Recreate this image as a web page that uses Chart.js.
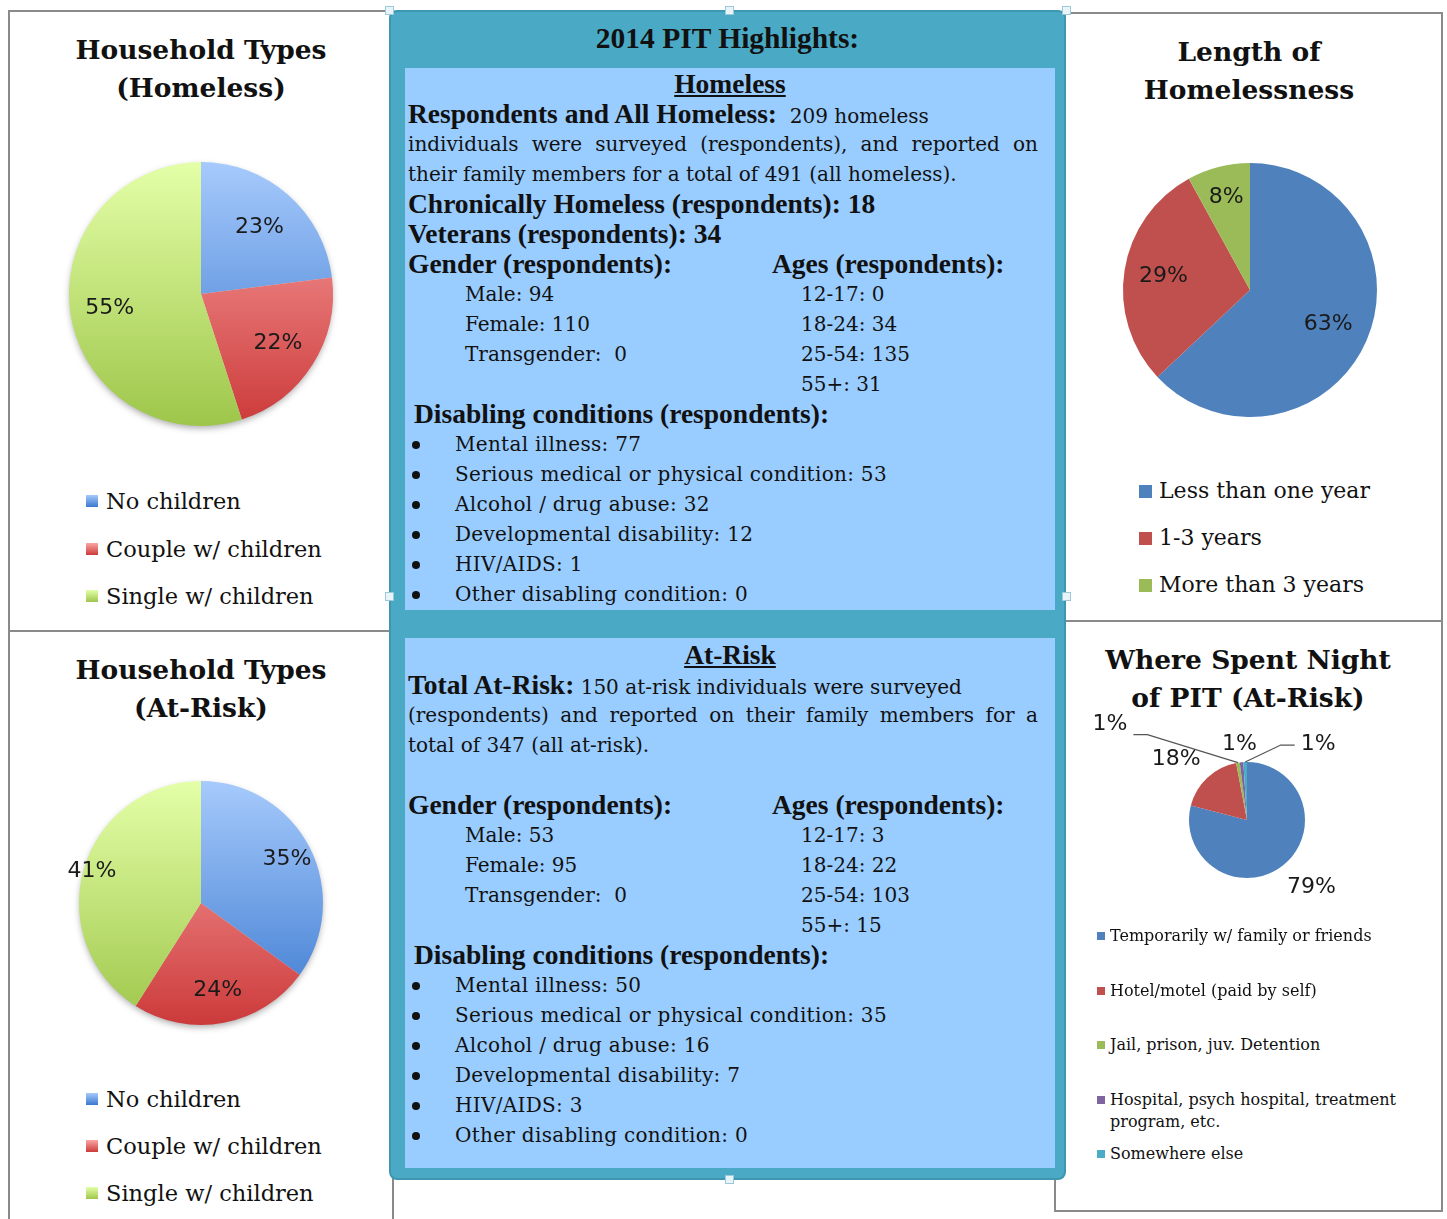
<!DOCTYPE html>
<html>
<head>
<meta charset="utf-8">
<title>2014 PIT Highlights</title>
<script src="https://cdn.jsdelivr.net/npm/chart.js@4.4.1/dist/chart.umd.min.js"></script>
<style>
    body { margin: 0; width: 1447px; height: 1219px; overflow: hidden; background: #fff; position: relative; color: #111; }
    .panel { position: absolute; border: 2px solid #8a8a8a; box-sizing: border-box; background: #fff; }
    .ttl { position: absolute; text-align: center; font: bold 26.5px/38px "DejaVu Serif", serif; color: #111; }
    canvas { position: absolute; }
    .lg { position: absolute; font-family: "DejaVu Serif", serif; color: #111; }
    .lg .item { position: absolute; left: 0; white-space: nowrap; }
    .lg .sw { position: absolute; }

    #pit { position: absolute; left: 389px; top: 10px; width: 677px; height: 1170px; background: #4aaac5;
           border: 2px solid #3d97b1; border-radius: 8px; box-sizing: border-box; }
    #pitTitulo { position: absolute; left: 389px; top: 19px; width: 677px; text-align: center;
                 font: bold 29.5px/38px "Liberation Serif", serif; color: #111; }
    .box { position: absolute; left: 405px; width: 650px; background: #99ccff; box-sizing: border-box;
           padding-left: 3px; padding-right: 17px; font: 20px/30px "DejaVu Serif", serif; color: #111; }
    .box > div { height: 30px; white-space: nowrap; }
    .box b { font: bold 27.5px/30px "Liberation Serif", serif; }
    .box .c { text-align: center; margin-right: -14px; }
    .box .j { text-align: justify; text-align-last: justify; white-space: normal; }
    .box .two { display: grid; grid-template-columns: 364px 1fr; }
    .box .in span:first-child { padding-left: 57px; }
    .box .in span:last-child { padding-left: 29px; }
    .box .dc { padding-left: 6px; }
    .box .li { position: relative; padding-left: 47px; letter-spacing: 0.3px; }
    .box .li::before { content: ''; position: absolute; left: 4px; top: 12px; width: 8px; height: 8px;
                       border-radius: 50%; background: #111; }
    .alca { position: absolute; width: 7px; height: 7px; background: #e8f4fa; border: 1px solid #9cc9d8; }
</style>
</head>
<body>

<!-- molduras dos graficos -->
<div class="panel" style="left:8px; top:10px; width:384px; height:622px;"></div>
<div class="panel" style="left:8px; top:630px; width:386px; height:620px;"></div>
<div class="panel" style="left:1064px; top:12px; width:379px; height:610px;"></div>
<div class="panel" style="left:1054px; top:620px; width:389px; height:592px;"></div>

<!-- caixa central -->
<div id="pit"></div>
<div class="alca" style="left:725px; top:6px;"></div>
<div class="alca" style="left:725px; top:1175px;"></div>
<div class="alca" style="left:385px; top:592px;"></div>
<div class="alca" style="left:1062px; top:592px;"></div>
<div class="alca" style="left:385px; top:6px;"></div>
<div class="alca" style="left:1062px; top:6px;"></div>
<div id="pitTitulo">2014 PIT Highlights:</div>

<div class="box" style="top:68px; height:542px; padding-top:1px;">
    <div class="c"><b><u>Homeless</u></b></div>
    <div><b>Respondents and All Homeless:</b>&nbsp; 209 homeless</div>
    <div class="j">individuals were surveyed (respondents), and reported on</div>
    <div>their family members for a total of 491 (all homeless).</div>
    <div><b>Chronically Homeless (respondents): 18</b></div>
    <div><b>Veterans (respondents): 34</b></div>
    <div class="two"><b>Gender (respondents):</b><b>Ages (respondents):</b></div>
    <div class="two in"><span>Male: 94</span><span>12-17: 0</span></div>
    <div class="two in"><span>Female: 110</span><span>18-24: 34</span></div>
    <div class="two in"><span>Transgender:&nbsp; 0</span><span>25-54: 135</span></div>
    <div class="two in"><span></span><span>55+: 31</span></div>
    <div class="dc"><b>Disabling conditions (respondents):</b></div>
    <div class="li">Mental illness: 77</div>
    <div class="li">Serious medical or physical condition: 53</div>
    <div class="li">Alcohol / drug abuse: 32</div>
    <div class="li">Developmental disability: 12</div>
    <div class="li">HIV/AIDS: 1</div>
    <div class="li">Other disabling condition: 0</div>
</div>

<div class="box" style="top:638px; height:530px; padding-top:2px;">
    <div class="c"><b><u>At-Risk</u></b></div>
    <div><b>Total At-Risk:</b> 150 at-risk individuals were surveyed</div>
    <div class="j">(respondents) and reported on their family members for a</div>
    <div>total of 347 (all at-risk).</div>
    <div>&nbsp;</div>
    <div class="two"><b>Gender (respondents):</b><b>Ages (respondents):</b></div>
    <div class="two in"><span>Male: 53</span><span>12-17: 3</span></div>
    <div class="two in"><span>Female: 95</span><span>18-24: 22</span></div>
    <div class="two in"><span>Transgender:&nbsp; 0</span><span>25-54: 103</span></div>
    <div class="two in"><span></span><span>55+: 15</span></div>
    <div class="dc"><b>Disabling conditions (respondents):</b></div>
    <div class="li">Mental illness: 50</div>
    <div class="li">Serious medical or physical condition: 35</div>
    <div class="li">Alcohol / drug abuse: 16</div>
    <div class="li">Developmental disability: 7</div>
    <div class="li">HIV/AIDS: 3</div>
    <div class="li">Other disabling condition: 0</div>
</div>

<!-- titulos -->
<div class="ttl" style="left:10px; width:382px; top:31px;">Household Types<br>(Homeless)</div>
<div class="ttl" style="left:1066px; width:366px; top:33px;">Length of<br>Homelessness</div>
<div class="ttl" style="left:10px; width:382px; top:651px;">Household Types<br>(At-Risk)</div>
<div class="ttl" style="left:1062px; width:372px; top:641px;">Where Spent Night<br>of PIT (At-Risk)</div>

<canvas id="graficoHomeless" width="304" height="304" style="left:49px; top:142px;"></canvas>
<canvas id="graficoTempo" width="294" height="294" style="left:1103px; top:143px;"></canvas>
<canvas id="graficoAtRisk" width="304" height="304" style="left:49px; top:751px;"></canvas>
<canvas id="graficoNoite" width="376" height="376" style="left:1059px; top:632px;"></canvas>

<div class="lg" id="legHomeless" style="left:86px; top:489px; font-size:22.5px;"></div>
<div class="lg" id="legTempo" style="left:1139px; top:479px; font-size:22px;"></div>
<div class="lg" id="legAtRisk" style="left:86px; top:1087px; font-size:22.5px;"></div>
<div class="lg" id="legNoite" style="left:1097px; top:925px; font-size:16px;"></div>

<script>
const householdLabels = ['No children', 'Couple w/ children', 'Single w/ children'];
const householdHomeless = [23, 22, 55];
const householdAtRisk = [35, 24, 41];

const lengthLabels = ['Less than one year', '1-3 years', 'More than 3 years'];
const lengthValues = [63, 29, 8];

const nightLabels = ['Temporarily w/ family or friends', 'Hotel/motel (paid by self)', 'Jail, prison, juv. Detention',
                     'Hospital, psych hospital, treatment program, etc.', 'Somewhere else'];
const nightValues = [79, 18, 1, 1, 1];

document.addEventListener('DOMContentLoaded', () => {

    // cores com degrade (claro em cima, escuro embaixo)
    const degradesHousehold = [['#a6cafc', '#3a78cf'], ['#fca6a6', '#cc3a3a'], ['#e4ffa8', '#9ec64a']];
    const coresOffice = ['#4f81bd', '#c0504d', '#9bbb59', '#8064a2', '#4bacc6'];

    function corDegrade(pares, fallback) {
        return (ctx) => {
            const area = ctx.chart.chartArea;
            const par = pares[ctx.dataIndex % pares.length];
            if (!area) return fallback[ctx.dataIndex];
            const g = ctx.chart.ctx.createLinearGradient(0, area.top, 0, area.bottom);
            g.addColorStop(0, par[0]);
            g.addColorStop(1, par[1]);
            return g;
        };
    }

    // sombra suave atras da pizza
    const sombraPlugin = {
        id: 'sombra',
        beforeDatasetsDraw(chart, args, opts) {
            if (!opts.ativo) return;
            const arc = chart.getDatasetMeta(0).data[0];
            if (!arc) return;
            const p = arc.getProps(['x', 'y', 'outerRadius']);
            const ctx = chart.ctx;
            ctx.save();
            ctx.shadowColor = 'rgba(0,0,0,0.35)';
            ctx.shadowBlur = 7;
            ctx.shadowOffsetY = 3;
            ctx.beginPath();
            ctx.arc(p.x, p.y, p.outerRadius - 1, 0, Math.PI * 2);
            ctx.fillStyle = '#ddd';
            ctx.fill();
            ctx.restore();
        }
    };

    // rotulos de porcentagem (dentro, fora ou com linha de chamada)
    const rotulosPlugin = {
        id: 'rotulos',
        afterDatasetsDraw(chart, args, opts) {
            const ctx = chart.ctx;
            const valores = chart.data.datasets[0].data;
            ctx.save();
            ctx.font = opts.font;
            ctx.fillStyle = opts.color;
            ctx.textAlign = 'center';
            ctx.textBaseline = 'middle';
            chart.getDatasetMeta(0).data.forEach((arc, i) => {
                const p = arc.getProps(['x', 'y', 'startAngle', 'endAngle', 'outerRadius']);
                const meio = (p.startAngle + p.endAngle) / 2;
                const texto = valores[i] + '%';
                const chamada = (opts.chamadas || {})[i];
                let lx, ly;
                if (chamada) {
                    const ax = p.x + Math.cos(meio) * p.outerRadius;
                    const ay = p.y + Math.sin(meio) * p.outerRadius;
                    lx = ax + chamada.dx;
                    ly = ay + chamada.dy;
                    if (chamada.linha) {
                        const meiaLarg = ctx.measureText(texto).width / 2;
                        const lado = chamada.dx < 0 ? 1 : -1;
                        const x0 = lx + lado * (meiaLarg + 6);
                        const x1 = x0 + lado * 14;
                        const yl = ly + chamada.linha;
                        ctx.beginPath();
                        ctx.moveTo(x0, yl);
                        ctx.lineTo(x1, yl);
                        ctx.lineTo(ax, ay);
                        ctx.strokeStyle = '#555';
                        ctx.lineWidth = 1.3;
                        ctx.stroke();
                    }
                } else {
                    const f = Array.isArray(opts.fator) ? opts.fator[i] : opts.fator;
                    lx = p.x + Math.cos(meio) * p.outerRadius * f;
                    ly = p.y + Math.sin(meio) * p.outerRadius * f;
                }
                ctx.fillText(texto, lx, ly);
            });
            ctx.restore();
        }
    };

    function criarPizza(id, labels, valores, cores, padding, rotulos, sombra) {
        const canvas = document.getElementById(id);
        return new Chart(canvas.getContext('2d'), {
            type: 'pie',
            data: {
                labels: labels,
                datasets: [{ data: valores, backgroundColor: cores, borderWidth: 0 }]
            },
            options: {
                responsive: false, animation: false,
                layout: { padding: padding },
                plugins: {
                    legend: { display: false },
                    title: { display: false },
                    tooltip: { enabled: false },
                    sombra: { ativo: sombra },
                    rotulos: rotulos
                }
            },
            plugins: [sombraPlugin, rotulosPlugin]
        });
    }

    function montarLegenda(id, labels, cores, passo, tamQuadro, gap, largura) {
        const el = document.getElementById(id);
        labels.forEach((txt, i) => {
            const item = document.createElement('div');
            item.className = 'item';
            item.style.top = (i * passo) + 'px';
            item.style.paddingLeft = (tamQuadro + gap) + 'px';
            item.style.lineHeight = '24px';
            if (largura) { item.style.whiteSpace = 'normal'; item.style.width = largura + 'px'; item.style.lineHeight = '22px'; }
            item.textContent = txt;
            const sw = document.createElement('span');
            sw.className = 'sw';
            sw.style.left = '0px';
            sw.style.top = largura ? (11 - tamQuadro / 2) + 'px' : (12 - tamQuadro / 2) + 'px';
            sw.style.width = tamQuadro + 'px';
            sw.style.height = tamQuadro + 'px';
            sw.style.background = cores[i];
            item.appendChild(sw);
            el.appendChild(item);
        });
    }

    const fonteRotulo = '22px "DejaVu Sans", sans-serif';
    const solidosHousehold = ['#6b9ee6', '#e46a6a', '#c0e07a'];

    criarPizza('graficoHomeless', householdLabels, householdHomeless,
        corDegrade(degradesHousehold, solidosHousehold), 20,
        { font: fonteRotulo, color: '#1a1a1a', fator: [0.67, 0.69, 0.7] }, true);

    criarPizza('graficoAtRisk', householdLabels, householdAtRisk,
        corDegrade(degradesHousehold, solidosHousehold), 30,
        { font: fonteRotulo, color: '#1a1a1a', fator: [0.79, 0.73, 0.93] }, true);

    criarPizza('graficoTempo', lengthLabels, lengthValues, coresOffice.slice(0, 3), 20,
        { font: fonteRotulo, color: '#1a1a1a', fator: [0.67, 0.69, 0.75] }, false);

    criarPizza('graficoNoite', nightLabels, nightValues, coresOffice, 130,
        { font: fonteRotulo, color: '#1a1a1a', fator: 1.6,
          chamadas: { 0: { dx: 29, dy: 21 }, 1: { dx: -31, dy: -18 },
                      2: { dx: -128, dy: -38, linha: 10 }, 3: { dx: -2, dy: -18 }, 4: { dx: 73, dy: -18, linha: 1 } } }, false);

    const legHousehold = degradesHousehold.map(p => 'linear-gradient(' + p[0] + ',' + p[1] + ')');
    montarLegenda('legHomeless', householdLabels, legHousehold, 47.5, 12, 8);
    montarLegenda('legAtRisk', householdLabels, legHousehold, 47, 12, 8);
    montarLegenda('legTempo', lengthLabels, coresOffice, 47, 13, 7);
    montarLegenda('legNoite', nightLabels, coresOffice, 54.5, 8, 5, 320);
});
</script>
</body>
</html>
